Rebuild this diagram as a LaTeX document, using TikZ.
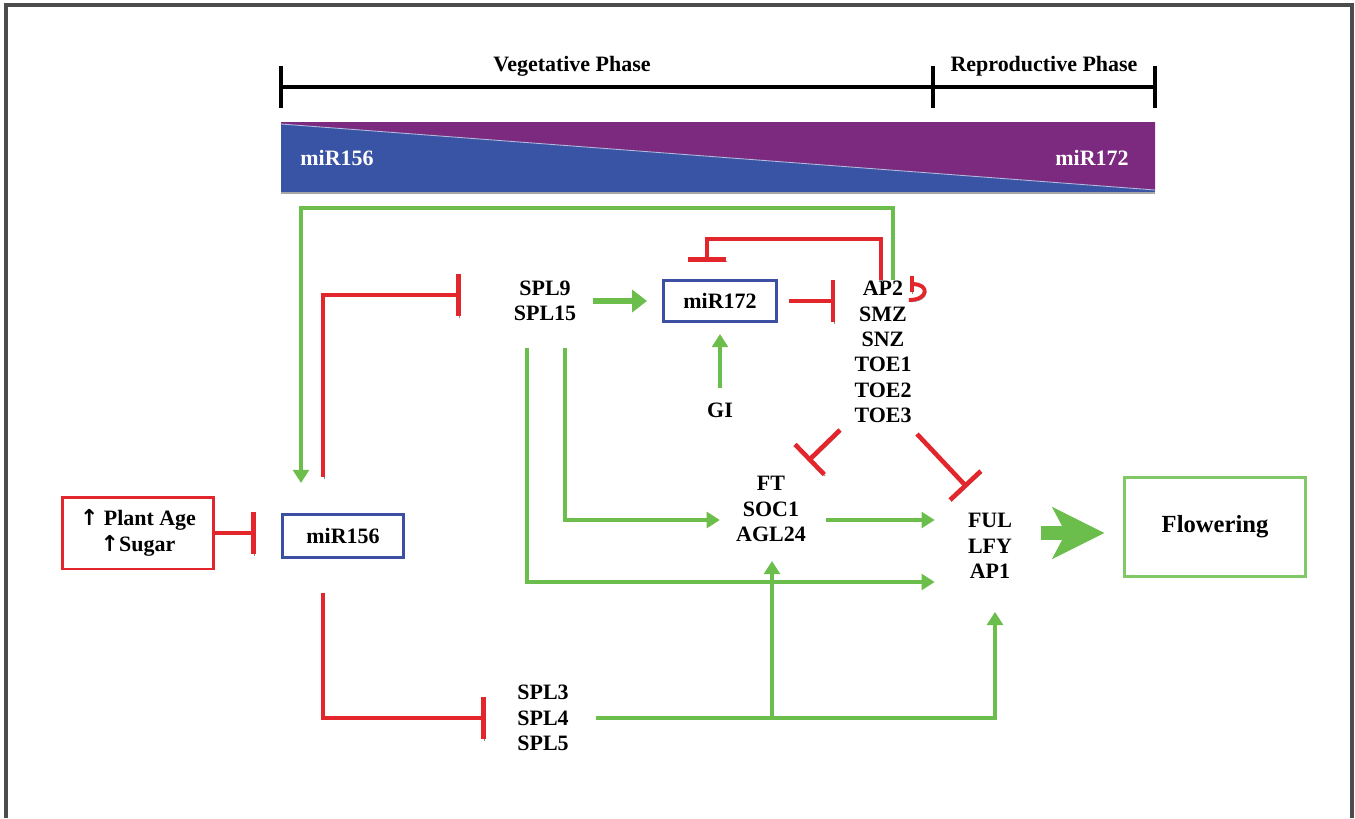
\documentclass[tikz,border=0pt]{standalone}
\usepackage{fontspec}
\setmainfont{Liberation Serif}
\newfontfamily\arrowfont{DejaVu Sans}
\usetikzlibrary{arrows.meta,calc}

\definecolor{inhred}{HTML}{E3262B}
\definecolor{actgreen}{HTML}{6BBE4B}
\definecolor{mirblue}{HTML}{3D4FA3}
\definecolor{barblue}{HTML}{3A54A5}
\definecolor{barpurple}{HTML}{7C2A7F}

\begin{document}
\begin{tikzpicture}[
    x=0.02cm, y=-0.02cm,
    genes/.style={
        font=\fontsize{12.5}{14.4}\selectfont\bfseries,
        align=center,
        inner sep=0pt
    },
    mirbox/.style={
        draw=mirblue,
        line width=1.7pt,
        minimum width=2.3cm,
        minimum height=0.84cm,
        font=\fontsize{12.5}{14.4}\selectfont\bfseries
    },
    activ/.style={
        -{Triangle[length=7.5pt, width=9pt]},
        line width=2pt,
        draw=actgreen
    },
    repress/.style={
        -{Bar[width=24pt]},
        line width=2.6pt,
        draw=inhred,
        preaction={draw=black!45, transform canvas={shift={(0.6pt,-1pt)}}}
    },
    phase/.style={line width=2.2pt}
]
    \useasboundingbox (0,0) rectangle (1355,818);
    \draw[black!70, line width=1.8pt] (6,818) -- (6,5) -- (1352,5) -- (1352,818);

    % phases and the two miRNA levels
    \foreach \tx in {281,933,1155}
        \draw[phase] (\tx,66) -- (\tx,108);
    \draw[phase] (281,87) -- (1155,87);
    \node[genes] (veg) at (572,66) {Vegetative Phase};
    \node[genes] (rep) at (1044,66) {Reproductive Phase};

    \fill[barblue] (281,122) rectangle (1155,192);
    \fill[barpurple] (281,122) -- (1155,122) -- (1155,190) -- (281,124) -- cycle;
    \draw[white!60!barblue, line width=0.5pt] (281,124) -- (1155,190);
    \draw[black!35, line width=1pt] (281,193) -- (1155,193);
    \node[genes, text=white] (lo) at (337,158) {miR156};
    \node[genes, text=white] (hi) at (1092,158) {miR172};

    % network
    \node[draw=inhred, line width=1.7pt, minimum width=3.04cm, minimum height=1.44cm, genes] (age) at (138,533)
        {{\arrowfont\bfseries ↑} Plant Age\\{\arrowfont\bfseries ↑}Sugar};
    \node[mirbox, minimum width=2.42cm, minimum height=0.86cm] (mir156) at (343,536) {miR156};
    \node[genes] (spl9) at (545,301) {SPL9\\SPL15};
    \node[mirbox, minimum width=2.26cm, minimum height=0.82cm] (mir172) at (720,301) {miR172};
    \node[genes] (ap2) at (883,352) {AP2\\SMZ\\SNZ\\TOE1\\TOE2\\TOE3};
    \node[genes] (gi) at (720,410) {GI};
    \node[genes] (ft) at (771,509) {FT\\SOC1\\AGL24};
    \node[genes] (ful) at (990,546) {FUL\\LFY\\AP1};
    \node[genes] (spl3) at (543,718) {SPL3\\SPL4\\SPL5};
    \node[draw=actgreen!85!white, line width=1.2pt, minimum width=3.62cm, minimum height=1.98cm,
        font=\fontsize{14}{17}\selectfont\bfseries] (flower) at (1215,527) {Flowering};

    \coordinate (loopnw) at (301,208);
    \coordinate (joint) at ($(ft.south |- spl3.east)+(1,0)$);

    \draw[activ] ($(ap2.north)+(10,-1)$) |- (loopnw) -- ($(mir156.north -| loopnw)+(0,-30)$);
    \draw[repress] ($(mir156.north)+(-20,-36)$) |- ($(spl9.west)+(-53,-6)$);
    \draw[activ, line width=3pt, -{Triangle[length=8.5pt, width=12.5pt]}] ($(spl9.east)+(17,0)$) -- ($(mir172.west)+(-15,0)$);
    \draw[repress] ($(mir172.east)+(11,0)$) -- ($(mir172.east -| ap2.west)+(-19,0)$);
    \draw[repress, -{Bar[width=22pt]}] ($(ap2.north)+(-2,-1)$) -- ++(0,-41) -| ($(mir172.north)+(-13,-17)$);
    \draw[repress, line width=2.2pt, -{Bar[width=9pt]}] ($(ap2.north east)+(-3,19)$) .. controls +(20,0) and +(20,0) .. ($(ap2.north east)+(-2,3)$);
    \draw[activ] ($(gi.north)+(0,-14)$) -- ($(mir172.south)+(0,11)$);
    \draw[repress] ($(ap2.south)+(-43,7)$) -- ($(ft.north)+(37,-15)$);
    \draw[repress] ($(ap2.south)+(34,11)$) -- ($(ful.north)+(-23,-26)$);
    \draw[activ] ($(spl9.south)+(20,27)$) |- ($(ft.west)+(-16,11)$);
    \draw[activ] ($(spl9.south)+(-18,27)$) |- ($(ful.west)+(-33,36)$);
    \draw[activ] ($(ft.east)+(20,11)$) -- ($(ful.west)+(-33,-26)$);
    \draw[activ] ($(spl3.east)+(27,0)$) -| ($(ful.south)+(5,33)$);
    \draw[activ] (joint) -- ($(ft.south)+(1,19)$);
    \draw[repress] ($(mir156.south)+(-20,34)$) |- ($(spl3.west)+(-31,0)$);
    \draw[repress] (age.east) -- ($(mir156.west)+(-25,-3)$);
    \draw[draw=actgreen, line width=7.6pt, -{Stealth[length=30pt, width=30pt, inset=8pt, line width=0pt]}]
        ($(ful.east)+(29,-13)$) -- ($(flower.west)+(-19,6)$);
\end{tikzpicture}
\end{document}
